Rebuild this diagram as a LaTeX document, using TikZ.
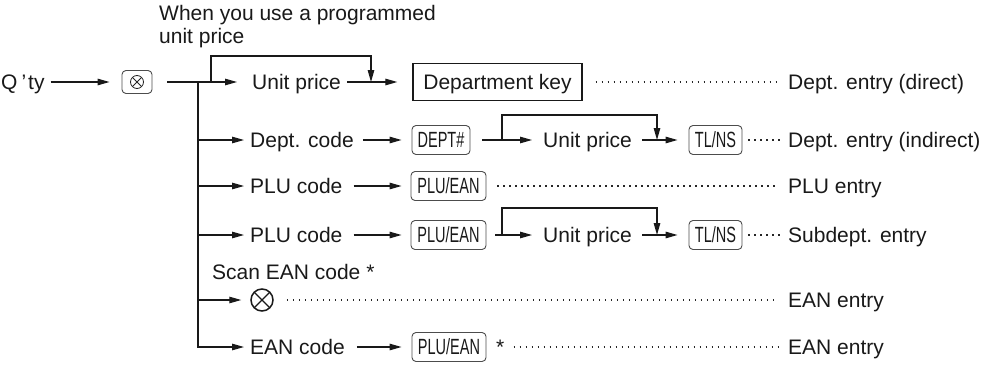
\documentclass[tikz,border=0pt]{standalone}
\usepackage{fontspec}
\setmainfont{Liberation Sans}
\usepackage{graphicx}
\usetikzlibrary{arrows.meta}
\newcommand\mainsz{\fontsize{21}{24}\selectfont}
\newcommand\keysz{\fontsize{22}{24}\selectfont}
\newcommand\kc[1]{\scalebox{0.66}[1]{#1}}
\tikzset{
  conn/.style={line width=1.2pt, draw=black!90},
  arr/.style={conn, -{Triangle[length=12pt,width=6.5pt]}},
  dots/.style={draw=black!85, line width=1.3pt, dash pattern=on 1.4pt off 4.6pt},
  lbl/.style={inner sep=0pt, text height=15pt, text depth=0pt, anchor=west, font=\mainsz, text=black!90},
  keybase/.style={draw=black!70, line width=0.9pt, rounded corners=4pt, minimum height=29pt, inner sep=0pt, font=\keysz, text=black!90},
  keycap/.style={keybase, text height=15.5pt, text depth=0pt},
  timeskey/.style={keybase, minimum width=30pt, minimum height=23pt,
    path picture={
      \draw[line width=0.8pt, black!85] (path picture bounding box.center) circle (6.5pt);
      \draw[line width=0.8pt, black!85] ([shift={(-4.6,-4.6)}]path picture bounding box.center) -- ([shift={(4.6,4.6)}]path picture bounding box.center);
      \draw[line width=0.8pt, black!85] ([shift={(-4.6,4.6)}]path picture bounding box.center) -- ([shift={(4.6,-4.6)}]path picture bounding box.center);
    }},
  bigkey/.style={draw=black!90, line width=1.3pt, minimum width=169pt, minimum height=37pt, inner sep=0pt, font=\mainsz, text height=15pt, text depth=0pt, text=black!90},
  scan/.style={circle, draw=black!90, line width=1.5pt, minimum size=22pt, inner sep=0pt,
    path picture={
      \draw[line width=1.2pt, black!90] ([shift={(-7.8,-7.8)}]path picture bounding box.center) -- ([shift={(7.8,7.8)}]path picture bounding box.center);
      \draw[line width=1.2pt, black!90] ([shift={(-7.8,7.8)}]path picture bounding box.center) -- ([shift={(7.8,-7.8)}]path picture bounding box.center);
    }},
}
\begin{document}
\begin{tikzpicture}[x=1pt,y=-1pt]
\useasboundingbox (0,0) rectangle (987,364);
% note
\node[lbl] (note1) at (159,12.5) {When you use a programmed};
\node[lbl] (note2) at (159,35.5) {unit price};
% row 1
\node[lbl] (qty) at (1,82) {Q\kern4pt’\kern2pt ty};
\node[timeskey] (k0) at (137,82) {};
\coordinate (j1) at (211,82);
\coordinate (t1) at (198,82);
\node[lbl] (up1) at (252,82) {Unit price};
\coordinate (b1) at (371,56);
\coordinate (d1) at (371,82);
\node[bigkey] (dk) at (497.5,82) {Department key};
\node[lbl] (e1) at (788,82) {Dept. entry (direct)};
% row 2
\coordinate (t2) at (198,140);
\node[lbl] (dc2) at (250,140) {Dept. code};
\node[keycap, minimum width=58pt] (kd2) at (441,140) {\kc{DEPT\#}};
\coordinate (j2) at (502,140);
\node[lbl] (up2) at (543,140) {Unit price};
\coordinate (b2) at (657,115);
\coordinate (d2) at (657,140);
\node[keycap, minimum width=53pt] (tl2) at (715.5,140) {\kc{TL/NS}};
\node[lbl] (e2) at (788,140) {Dept. entry (indirect)};
% row 3
\coordinate (t3) at (198,186);
\node[lbl] (pc3) at (250,186) {PLU code};
\node[keycap, minimum width=75pt] (kp3) at (448.5,186) {\kc{PLU/EAN}};
\node[lbl] (e3) at (788,186) {PLU entry};
% row 4
\coordinate (t4) at (198,235);
\node[lbl] (pc4) at (250,235) {PLU code};
\node[keycap, minimum width=75pt] (kp4) at (448.5,235) {\kc{PLU/EAN}};
\coordinate (j4) at (502,235);
\node[lbl] (up4) at (543,235) {Unit price};
\coordinate (b4) at (657,208);
\coordinate (d4) at (657,235);
\node[keycap, minimum width=53pt] (tl4) at (715.5,235) {\kc{TL/NS}};
\node[lbl] (e4) at (788,235) {Subdept. entry};
% row 5
\node[lbl] (scanlbl) at (212,272) {Scan EAN code *};
\coordinate (t5) at (198,300);
\node[scan] (sc) at (262,300) {};
\node[lbl] (e5) at (788,300) {EAN entry};
% row 6
\coordinate (t6) at (198,347);
\node[lbl] (ean6) at (250,347) {EAN code};
\node[keycap, minimum width=74pt] (kp6) at (449,347) {\kc{PLU/EAN}};
\node[lbl] (star) at (496,347) {*};
\node[lbl] (e6) at (788,347) {EAN entry};

% connectors row 1
\draw[arr, shorten <=6pt, shorten >=12pt] (qty) -- (k0);
\draw[conn, shorten <=15pt] (k0) -- (j1);
\draw[arr, shorten >=15pt] (j1) -- (up1);
\draw[arr] (j1) |- (b1) -- (d1);
\draw[arr, shorten <=6pt, shorten >=15pt] (up1) -- (dk);
\draw[dots, shorten <=13pt, shorten >=10pt] (dk) -- (e1);
% trunk
\draw[arr, shorten >=6pt] (t1) -- (t6) -- (ean6);
% row 2
\draw[arr, shorten >=6pt] (t2) -- (dc2);
\draw[arr, shorten <=9pt, shorten >=10pt] (dc2) -- (kd2);
\draw[conn, shorten <=12pt] (kd2) -- (j2);
\draw[arr, shorten >=11pt] (j2) -- (up2);
\draw[arr] (j2) |- (b2) -- (d2);
\draw[arr, shorten <=10pt, shorten >=11pt] (up2) -- (tl2);
\draw[dots, shorten <=6pt, shorten >=8pt] (tl2) -- (e2);
% row 3
\draw[arr, shorten >=6pt] (t3) -- (pc3);
\draw[arr, shorten <=11pt, shorten >=9pt] (pc3) -- (kp3);
\draw[dots, shorten <=11pt, shorten >=10pt] (kp3) -- (e3);
% row 4
\draw[arr, shorten >=6pt] (t4) -- (pc4);
\draw[arr, shorten <=11pt, shorten >=9pt] (pc4) -- (kp4);
\draw[conn, shorten <=9pt] (kp4) -- (j4);
\draw[arr, shorten >=11pt] (j4) -- (up4);
\draw[arr] (j4) |- (b4) -- (d4);
\draw[arr, shorten <=10pt, shorten >=11pt] (up4) -- (tl4);
\draw[dots, shorten <=6pt, shorten >=8pt] (tl4) -- (e4);
% row 5
\draw[arr, shorten >=9pt] (t5) -- (sc);
\draw[dots, shorten <=13pt, shorten >=10pt] (sc) -- (e5);
% row 6
\draw[arr, shorten <=12pt, shorten >=10pt] (ean6) -- (kp6);
\draw[dots, shorten <=9pt, shorten >=10pt] (star) -- (e6);
\end{tikzpicture}
\end{document}
